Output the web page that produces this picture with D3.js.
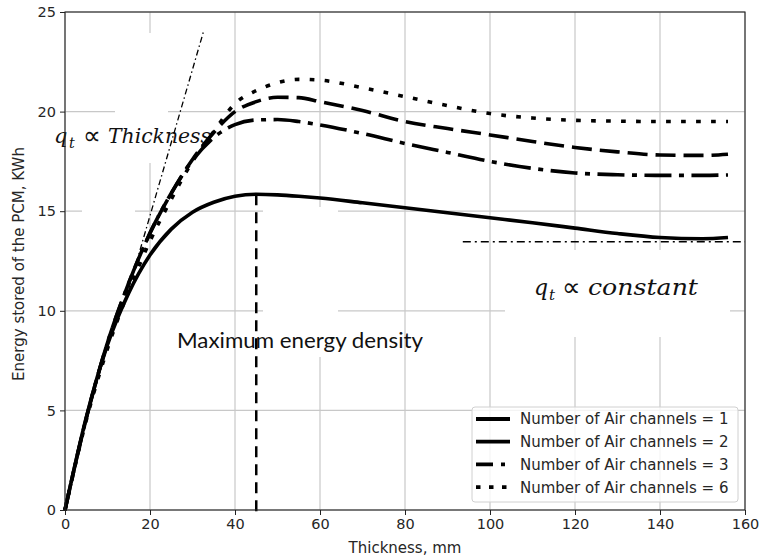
<!DOCTYPE html>
<html><head><meta charset="utf-8">
<script src="https://cdn.jsdelivr.net/npm/d3@7"></script>
<style>html,body{margin:0;padding:0;background:#fff;}svg{display:block;}</style>
</head><body>
<svg id="chart" width="759" height="560"></svg>
<script>
// ---- data ----
const thickness = [0, 5, 10, 15, 20, 25, 30, 35, 40, 45, 50, 55, 60, 70, 80, 90, 100, 110, 120, 130, 140, 150, 156];
const channels1 = [0, 4.65, 8.3, 10.9, 12.8, 14.1, 14.95, 15.45, 15.75, 15.85, 15.82, 15.75, 15.66, 15.42, 15.17, 14.92, 14.67, 14.42, 14.15, 13.88, 13.68, 13.62, 13.68];
const channels2 = [0, 4.6, 8.4, 11.4, 13.9, 15.9, 17.6, 18.95, 20.0, 20.5, 20.72, 20.7, 20.5, 20.05, 19.5, 19.15, 18.83, 18.5, 18.2, 17.98, 17.82, 17.8, 17.86];
const channels3 = [0, 4.6, 8.4, 11.4, 13.9, 15.9, 17.55, 18.7, 19.35, 19.58, 19.6, 19.5, 19.33, 18.9, 18.4, 17.95, 17.5, 17.15, 16.92, 16.83, 16.8, 16.8, 16.82];
const channels6 = [0, 4.5, 8.1, 11.0, 13.5, 15.6, 17.5, 19.0, 20.4, 21.05, 21.45, 21.62, 21.58, 21.2, 20.75, 20.3, 19.9, 19.68, 19.56, 19.52, 19.5, 19.5, 19.5];
const seriesLabels = ["Number of Air channels = 1", "Number of Air channels = 2", "Number of Air channels = 3", "Number of Air channels = 6"];
const xTicks = [0, 20, 40, 60, 80, 100, 120, 140, 160];
const yTicks = [0, 5, 10, 15, 20, 25];
const tangentLine = [[15, 11.1], [32.7, 24.1]];
const constantLine = [[93.6, 13.47], [160, 13.47]];
const maxDensityX = 45, maxDensityY = 15.85;
const xTitle = "Thickness, mm";
const yTitle = "Energy stored of the PCM, KWh";

// ---- styles ----
const styles = [
  {dash: null, legendDash: null},
  {dash: "20,8", legendDash: null},
  {dash: "27,7.5,5,7.5", legendDash: "17,8,4,10"},
  {dash: "4.7,10.3", legendDash: "4.5,8.5"}
];

const svg = d3.select("#chart");
const x = d3.scaleLinear().domain([0, 160]).range([65, 745]);
const y = d3.scaleLinear().domain([0, 25]).range([510, 12]);
const font = "'DejaVu Sans', sans-serif";
const txt = "#262626";

// grid
const grid = svg.append("g");
grid.selectAll("line.vx").data(xTicks).join("line")
  .attr("x1", d => x(d)).attr("x2", d => x(d)).attr("y1", y(25)).attr("y2", y(0))
  .attr("stroke", "#c8c8c8").attr("stroke-width", 1.2);
grid.selectAll("line.hy").data(yTicks).join("line")
  .attr("y1", d => y(d)).attr("y2", d => y(d)).attr("x1", x(0)).attr("x2", x(160))
  .attr("stroke", "#c8c8c8").attr("stroke-width", 1.2);

// white patches from the annotation boxes (pixel regions)
const patches = [[115, 33, 53, 130], [82, 165, 53, 95], [263, 207, 75, 150], [505, 250, 225, 87]];
svg.append("g").selectAll("rect").data(patches).join("rect")
  .attr("x", d => d[0]).attr("y", d => d[1]).attr("width", d => d[2]).attr("height", d => d[3])
  .attr("fill", "#fff");

// annotations text
const serif = "'DejaVu Serif', serif";
function mathLabel(xq, xt, xp, xw, base, word, wlen, size) {
  const g = svg.append("g").attr("font-family", serif).attr("fill", "#111");
  g.append("text").attr("x", xq).attr("y", base).attr("font-style", "italic").attr("font-size", size).text("q");
  g.append("text").attr("x", xt).attr("y", base + 5).attr("font-style", "italic").attr("font-size", size * 0.68).text("t");
  g.append("text").attr("x", xp).attr("y", base + 1).attr("font-family", "'DejaVu Sans', sans-serif")
    .attr("font-weight", 300).attr("font-size", size * 1.2).text("∝");
  g.append("text").attr("x", xw).attr("y", base).attr("font-style", "italic").attr("font-size", size)
    .attr("textLength", wlen).attr("lengthAdjust", "spacingAndGlyphs").text(word);
}
mathLabel(54, 69, 83, 108, 143, "Thickness", 103, 21);
mathLabel(534, 549, 562, 588, 295, "constant", 110, 22);

svg.append("text").attr("x", 177).attr("y", 348).attr("font-family", "Lato, 'Open Sans', sans-serif")
  .attr("font-size", 21).attr("fill", "#111").attr("textLength", 246).attr("lengthAdjust", "spacingAndGlyphs")
  .text("Maximum energy density");

// curves
const seriesValues = [channels1, channels2, channels3, channels6];
const line = d3.line().x(d => x(d[0])).y(d => y(d[1])).curve(d3.curveMonotoneX);
const curves = svg.append("g");
seriesValues.forEach((vals, i) => {
  const pts = thickness.map((t, j) => [t, vals[j]]);
  curves.append("path").attr("d", line(pts)).attr("fill", "none").attr("stroke", "#000")
    .attr("stroke-width", 3.6).attr("stroke-dasharray", styles[i].dash);
});

// guide lines
const straight = d3.line().x(d => x(d[0])).y(d => y(d[1]));
svg.append("path").attr("d", straight(tangentLine)).attr("fill", "none").attr("stroke", "#000")
  .attr("stroke-width", 1.3).attr("stroke-dasharray", "6,3,1.5,3");
svg.append("path").attr("d", straight(constantLine)).attr("fill", "none").attr("stroke", "#000")
  .attr("stroke-width", 1.5).attr("stroke-dasharray", "8,4,2,4");
svg.append("line").attr("x1", x(maxDensityX)).attr("x2", x(maxDensityX))
  .attr("y1", y(maxDensityY)).attr("y2", y(0) + 8)
  .attr("stroke", "#000").attr("stroke-width", 2.5).attr("stroke-dasharray", "11,7");

// axes
const xAxis = svg.append("g").attr("transform", `translate(0,${y(0)})`)
  .call(d3.axisBottom(x).tickValues(xTicks).tickSize(5).tickPadding(4).tickFormat(d3.format("d")));
const yAxis = svg.append("g").attr("transform", `translate(${x(0)},0)`)
  .call(d3.axisLeft(y).tickValues(yTicks).tickSize(5).tickPadding(4).tickFormat(d3.format("d")));
[xAxis, yAxis].forEach(a => {
  a.select(".domain").remove();
  a.selectAll(".tick line").attr("stroke", "#222").attr("stroke-width", 1);
  a.selectAll(".tick text").attr("font-family", font).attr("font-size", 14.5).attr("fill", txt);
});
// spines
svg.append("rect").attr("x", x(0)).attr("y", y(25)).attr("width", x(160) - x(0)).attr("height", y(0) - y(25))
  .attr("fill", "none").attr("stroke", "#222").attr("stroke-width", 1.1);

// axis titles
svg.append("text").attr("x", (x(0) + x(160)) / 2).attr("y", 553).attr("text-anchor", "middle")
  .attr("font-family", font).attr("font-size", 15).attr("fill", txt).text(xTitle);
svg.append("text").attr("transform", "translate(24,264) rotate(-90)").attr("text-anchor", "middle")
  .attr("font-family", font).attr("font-size", 15).attr("fill", txt).text(yTitle);

// legend
const lg = svg.append("g");
lg.append("rect").attr("x", 472).attr("y", 407).attr("width", 266).attr("height", 95).attr("rx", 3)
  .attr("fill", "#fff").attr("fill-opacity", 0.8).attr("stroke", "#d0d0d0").attr("stroke-width", 1);
seriesLabels.forEach((lab, i) => {
  const yy = 419 + i * 22.7;
  lg.append("line").attr("x1", 476).attr("x2", 510).attr("y1", yy).attr("y2", yy)
    .attr("stroke", "#000").attr("stroke-width", 3.8).attr("stroke-dasharray", styles[i].legendDash);
  lg.append("text").attr("x", 520).attr("y", yy).attr("dy", "0.36em").attr("font-family", font)
    .attr("font-size", 15).attr("fill", txt).text(lab);
});
</script>
</body></html>
